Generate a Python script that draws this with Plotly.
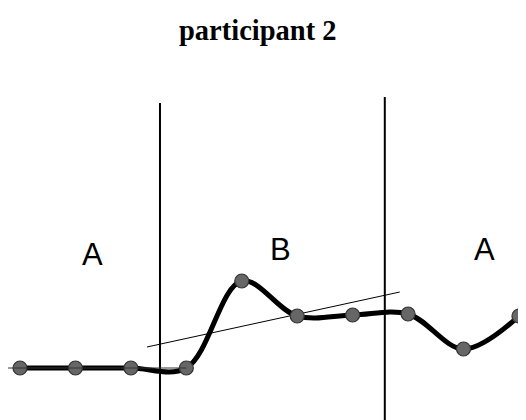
import plotly.graph_objects as go

# data
x_idx = [0, 1, 2, 3, 4, 5, 6, 7, 8, 9]
values = [0, 0, 0, 0, 87, 52, 53, 54, 19, 52]
phase_labels = ["A", "B", "A"]
phase_label_x = [1.30, 4.69, 8.37]
phase_label_y = [113.5, 118.5, 118.5]
phase_bounds = [2.525, 6.58]
phase_bound_top = [265, 271]
trend_x = [2.29, 6.85]
trend_y = [21, 76]
title_text = "participant 2"

fig = go.Figure()

# trend line
fig.add_trace(go.Scatter(x=trend_x, y=trend_y, mode="lines",
                         line=dict(color="black", width=1), hoverinfo="skip"))

# data curve
fig.add_trace(go.Scatter(x=x_idx, y=values, mode="lines+markers",
                         line=dict(color="black", width=5, shape="spline", smoothing=1),
                         marker=dict(size=14, color="#666666", line=dict(color="#333333", width=1.2))))

# phase boundary lines
for bx, bt in zip(phase_bounds, phase_bound_top):
    fig.add_shape(type="line", x0=bx, x1=bx, y0=-70, y1=bt,
                  line=dict(color="black", width=2), layer="below")

# baseline stub
fig.add_shape(type="line", x0=-0.22, x1=3.0, y0=0, y1=0,
              line=dict(color="#333333", width=1), layer="above")

for lx, ly, lt in zip(phase_label_x, phase_label_y, phase_labels):
    fig.add_annotation(x=lx, y=ly, text=lt, showarrow=False,
                       font=dict(family="Liberation Sans", size=31, color="black"))

fig.add_annotation(x=4.30, y=338, text="<b>" + title_text + "</b>",
                   showarrow=False,
                   font=dict(family="Liberation Serif", size=28.5, color="black"))

fig.update_layout(
    width=526, height=420,
    margin=dict(l=0, r=0, t=0, b=0),
    paper_bgcolor="white", plot_bgcolor="white",
    showlegend=False,
    xaxis=dict(range=[-12 / 55.44, 514 / 55.44], visible=False, fixedrange=True),
    yaxis=dict(range=[-60, 360], visible=False, fixedrange=True),
)

fig.write_html("out.html")
